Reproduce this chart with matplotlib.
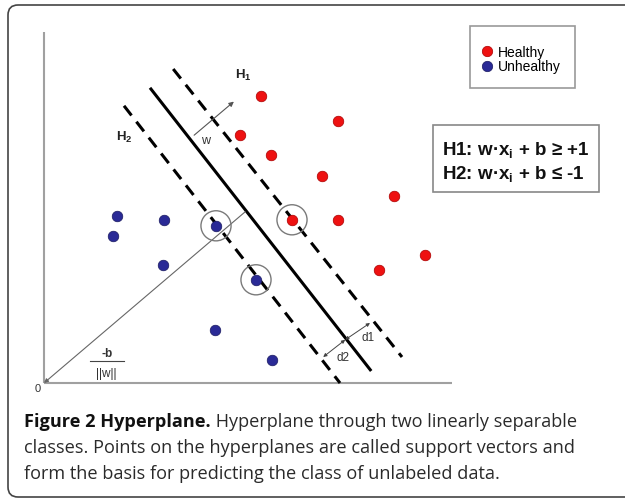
import matplotlib
matplotlib.use('Agg')
import matplotlib.pyplot as plt
from matplotlib.patches import Rectangle, PathPatch
from matplotlib.path import Path
from matplotlib.lines import Line2D

plt.rcParams['font.family'] = ['Liberation Sans', 'DejaVu Sans']
plt.rcParams['mathtext.fontset'] = 'custom'
plt.rcParams['mathtext.rm'] = 'Liberation Sans:bold'
plt.rcParams['mathtext.it'] = 'Liberation Sans:bold'

# data (diagram units, origin at the axes corner)
healthy_x = [5.43, 4.90, 5.68, 7.35, 6.95, 8.75, 7.35, 6.20, 8.38, 9.53]
healthy_y = [7.18, 6.20, 5.70, 6.55, 5.18, 4.68, 4.08, 4.08, 2.83, 3.20]
unhealthy_x = [1.83, 1.73, 3.00, 4.30, 2.98, 5.30, 4.28, 5.70]
unhealthy_y = [4.18, 3.68, 4.08, 3.93, 2.95, 2.58, 1.33, 0.58]
support_x = [4.30, 6.20, 5.30]
support_y = [3.93, 4.08, 2.58]

hyper_x = [2.65, 8.18]
hyper_y = [7.38, 0.30]
h1_x = [3.23, 8.95]
h1_y = [7.85, 0.65]
h2_x = [2.00, 7.40]
h2_y = [6.93, 0.00]

w_start, w_end = (3.70, 6.15), (4.80, 7.08)
b_end = (5.03, 4.28)
d_mid = (7.53, 1.08)
d1_end = (8.15, 1.50)
d2_end = (6.98, 0.65)

axis_x_max = 10.2
axis_y_max = 8.78

legend_labels = ['Healthy', 'Unhealthy']
eq_lines = ['H1: w·x$_\\mathrm{i}$ + b ≥ +1', 'H2: w·x$_\\mathrm{i}$ + b ≤ -1']

caption_bold = 'Figure 2 Hyperplane.'
caption_lines = [' Hyperplane through two linearly separable',
                 'classes. Points on the hyperplanes are called support vectors and',
                 'form the basis for predicting the class of unlabeled data.']

fig = plt.figure(figsize=(6.25, 5.02), dpi=100)
ax = fig.add_axes([0, 0, 1, 1])
ax.set_xlim(-1.1, 14.525)
ax.set_ylim(-2.95, 9.6)
ax.axis('off')

# outer frame: open on the right, it runs off the picture
fl, ft, fb, fr, rr = -0.9, 9.45, -2.85, 14.8, 0.25
verts = [(fr, ft), (fl + rr, ft), (fl, ft), (fl, ft - rr), (fl, fb + rr), (fl, fb), (fl + rr, fb), (fr, fb)]
codes = [Path.MOVETO, Path.LINETO, Path.CURVE3, Path.CURVE3, Path.LINETO, Path.CURVE3, Path.CURVE3, Path.LINETO]
ax.add_patch(PathPatch(Path(verts, codes), fill=False, ec='#444444', lw=1.2, clip_on=False))

# axes lines
ax.plot([0, axis_x_max], [0, 0], color='#a0a0a0', lw=1.5, solid_capstyle='butt')
ax.plot([0, 0], [0, axis_y_max], color='#a0a0a0', lw=1.5, solid_capstyle='butt')
ax.text(-0.17, -0.13, '0', fontsize=8, ha='center', va='center', color='#333333')

# hyperplanes
ax.plot(hyper_x, hyper_y, color='black', lw=2.2, solid_capstyle='butt')
for xs, ys in [(h1_x, h1_y), (h2_x, h2_y)]:
    ax.plot(xs, ys, color='black', lw=2.2, dashes=(4.0, 2.6), dash_capstyle='butt')

# vectors
ax.annotate('', xy=w_end, xytext=w_start,
            arrowprops=dict(arrowstyle='-|>', color='#555555', lw=0.8, mutation_scale=7))
ax.annotate('', xy=(0, 0), xytext=b_end,
            arrowprops=dict(arrowstyle='-|>', color='#666666', lw=0.8, mutation_scale=6,
                            shrinkA=0, shrinkB=0))
for end in (d1_end, d2_end):
    ax.annotate('', xy=end, xytext=d_mid,
                arrowprops=dict(arrowstyle='<|-|>', color='#444444', lw=0.7, mutation_scale=5,
                                shrinkA=0, shrinkB=0))

# points
ax.scatter(healthy_x, healthy_y, s=58, c='#ee1111', edgecolors='#aa0000', linewidths=0.5, zorder=4)
ax.scatter(unhealthy_x, unhealthy_y, s=58, c='#2a2a96', edgecolors='#1a1a60', linewidths=0.5, zorder=4)
ax.scatter(support_x, support_y, s=470, facecolors='none', edgecolors='#7a7a7a', linewidths=1.0, zorder=3)

# labels
ax.text(4.98, 7.72, 'H$_1$', fontsize=9.5, fontweight='bold', ha='center', va='center', color='#222222')
ax.text(2.00, 6.17, 'H$_2$', fontsize=9.5, fontweight='bold', ha='center', va='center', color='#222222')
ax.text(4.05, 6.08, 'w', fontsize=9, ha='center', va='center', color='#333333')
ax.text(8.10, 1.15, 'd1', fontsize=8.5, ha='center', va='center', color='#333333')
ax.text(7.47, 0.66, 'd2', fontsize=8.5, ha='center', va='center', color='#333333')
ax.text(1.57, 0.74, '-b', fontsize=8.5, fontweight='bold', ha='center', va='center', color='#333333')
ax.plot([1.15, 2.0], [0.56, 0.56], color='#444444', lw=0.8)
ax.text(1.55, 0.25, '||w||', fontsize=8.5, ha='center', va='center', color='#333333')

# legend box
ax.add_patch(Rectangle((10.65, 7.375), 2.625, 1.55, fc='white', ec='#999999', lw=1.2))
handles = [Line2D([], [], ls='none', marker='o', ms=7.5, mfc='#ee1111', mec='#aa0000', mew=0.5),
           Line2D([], [], ls='none', marker='o', ms=7.5, mfc='#2a2a96', mec='#1a1a60', mew=0.5)]
ax.legend(handles, legend_labels, loc='upper left', bbox_to_anchor=(0.7728, 0.909),
          frameon=False, handlelength=0.6, handletextpad=0.45, labelspacing=0.05,
          borderaxespad=0, borderpad=0, prop={'family': ['Liberation Sans'], 'size': 10})

# equation box
ax.add_patch(Rectangle((9.725, 4.775), 4.15, 1.675, fc='white', ec='#888888', lw=1.2))
for i, line in enumerate(eq_lines):
    ax.text(9.95, 5.72 - 0.6 * i, line, fontsize=13.5, fontweight='bold',
            ha='left', va='baseline', color='#111111')

# caption
cap_font = ['Open Sans', 'DejaVu Sans']
cap_size = 13.1
x0 = 24 / 625
t = fig.text(x0, 1 - 427 / 502, caption_bold, family=cap_font, fontsize=cap_size,
             fontweight='bold', color='#111111', va='baseline')
r = fig.canvas.get_renderer()
bb = t.get_window_extent(r)
fig.text(bb.x1 / 625, 1 - 427 / 502, caption_lines[0], family=cap_font, fontsize=cap_size,
         color='#2a2a2a', va='baseline')
for i, line in enumerate(caption_lines[1:]):
    fig.text(x0, 1 - (453 + 26 * i) / 502, line, family=cap_font, fontsize=cap_size,
             color='#2a2a2a', va='baseline')

fig.savefig('out.png', dpi=100)
